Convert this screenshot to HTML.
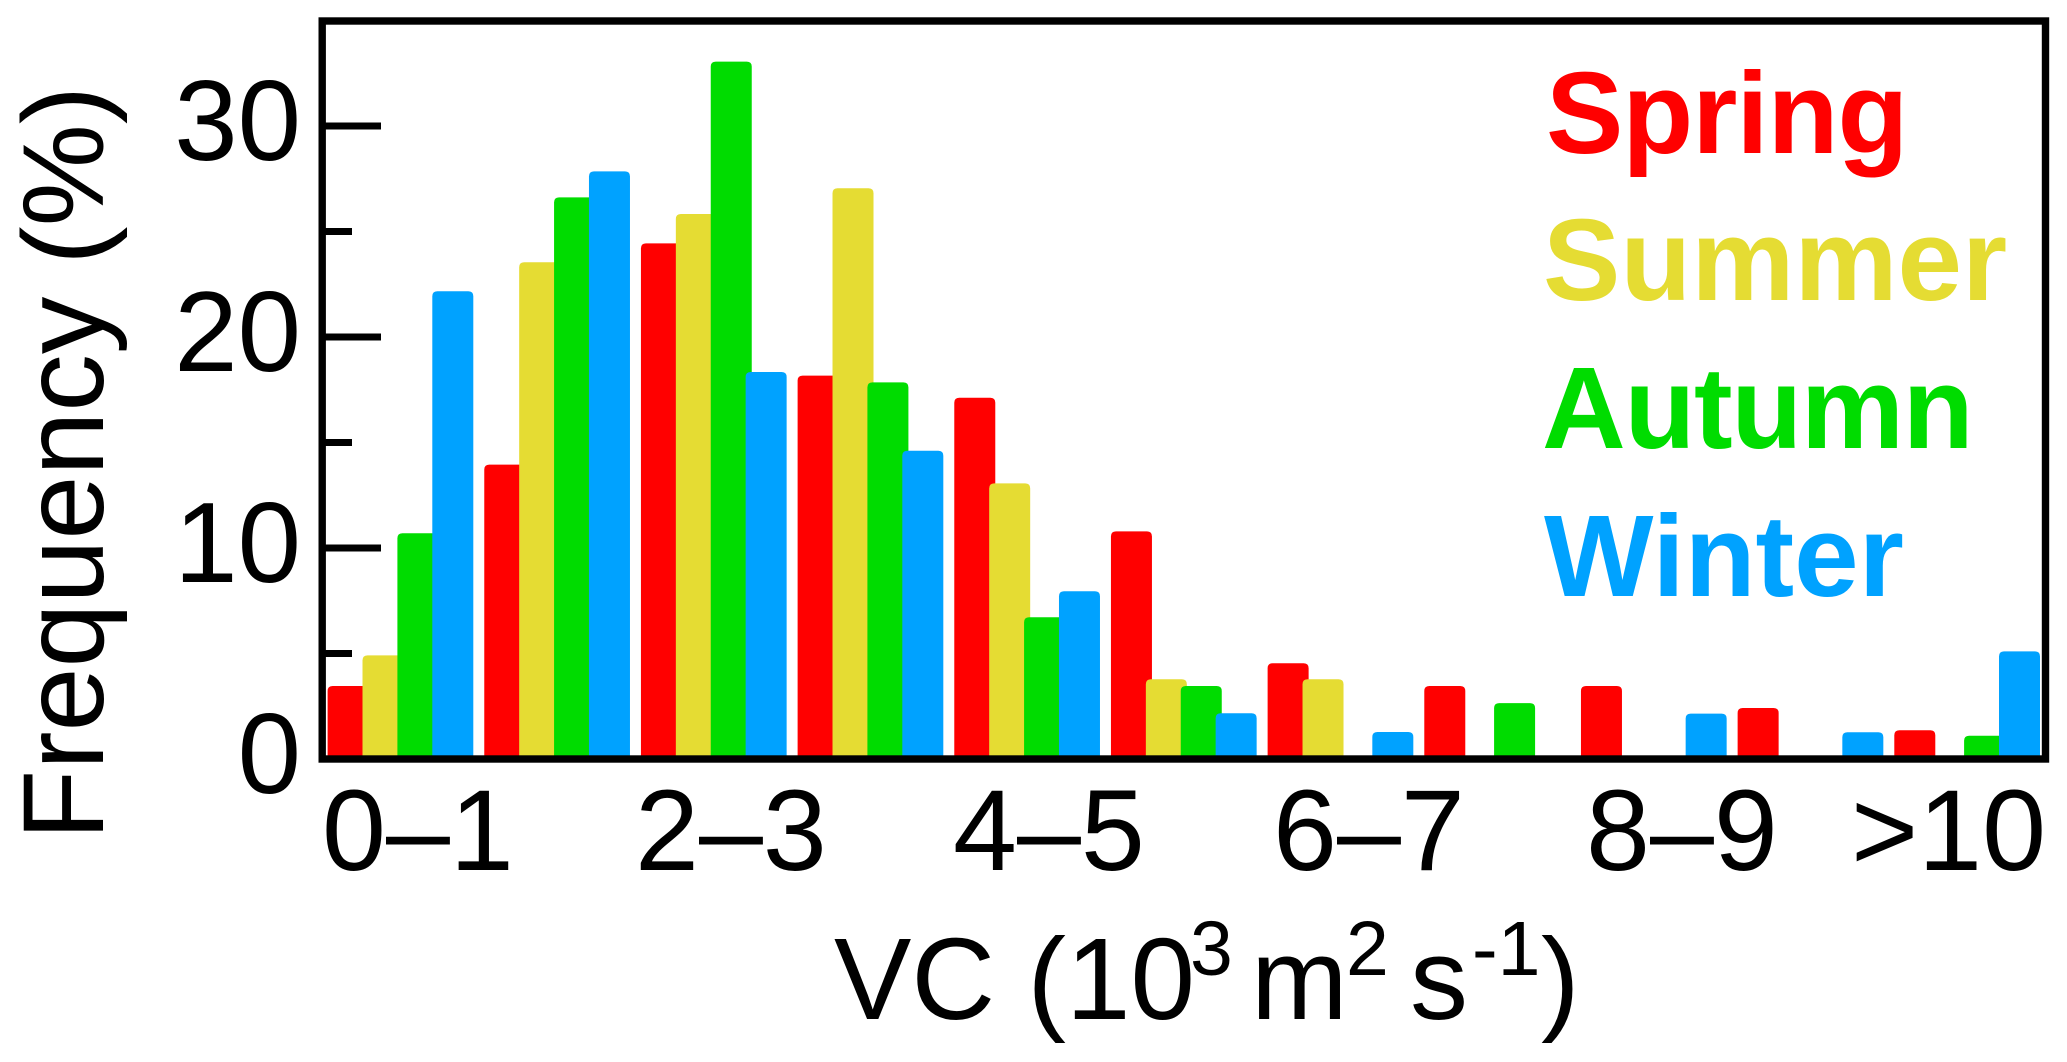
<!DOCTYPE html>
<html lang="en">
<head>
<meta charset="utf-8">
<title>VC frequency by season</title>
<style>
html,body{margin:0;padding:0;background:#fff;width:2067px;height:1062px;overflow:hidden}
svg{display:block}
text{font-family:"Liberation Sans",Arial,sans-serif;fill:#000}
.tick{font-size:115px}
.ytick{font-size:114px}
.leg{font-size:116px;font-weight:bold}
</style>
</head>
<body>
<svg id="chart" xmlns="http://www.w3.org/2000/svg" width="2067" height="1062" viewBox="0 0 2067 1062">
  <rect x="0" y="0" width="2067" height="1062" fill="#fff"/>
  <g id="bars"></g>
  <rect x="322.2" y="21" width="1723.3" height="738" fill="none" stroke="#000" stroke-width="7.4"/>
  <g id="yticks"></g>

  <g>
    <text class="tick" x="322" y="870">0–1</text>
    <text class="tick" x="635" y="870">2–3</text>
    <text class="tick" x="953" y="870">4–5</text>
    <text class="tick" x="1273" y="870">6–7</text>
    <text class="tick" x="1586" y="870">8–9</text>
    <text class="tick" x="1851" y="870">&gt;10</text>
  </g>

  <text font-size="115" transform="translate(103,840) rotate(-90)">Frequency (%)</text>

  <text font-size="116" y="1019"><tspan x="834">VC (10</tspan><tspan x="1190" y="975" font-size="77">3</tspan><tspan x="1251" y="1019">m</tspan><tspan x="1346" y="975" font-size="77">2</tspan><tspan x="1410" y="1019">s</tspan><tspan x="1472" y="975" font-size="77">-1</tspan><tspan x="1541" y="1019">)</tspan></text>

  <g>
    <text class="leg" x="1546" y="153" letter-spacing="-1" style="fill:#ff0000">Spring</text>
    <text class="leg" x="1543" y="300" style="fill:#e5dc33">Summer</text>
    <text class="leg" x="1542" y="448" letter-spacing="-1.3" style="fill:#00dc00">Autumn</text>
    <text class="leg" x="1544" y="596" style="fill:#00a2ff">Winter</text>
  </g>
</svg>
<script>
const categories = ["0-1","1-2","2-3","3-4","4-5","5-6","6-7","7-8","8-9","9-10",">10"];
const seasons = ["spring","summer","autumn","winter"];
const seasonColors = ["#ff0000","#e5dc33","#00dc00","#00a2ff"];
const spring = [3.46,13.95,24.44,18.17,17.12,10.79,4.54,3.46,3.46,2.42,1.36];
const summer = [4.91,23.54,25.83,27.05,13.06,3.78,3.78,0,0,0,0];
const autumn = [10.7,26.62,33.05,17.85,6.72,3.46,0,2.65,0,0,1.10];
const winter = [22.17,27.85,18.34,14.61,7.95,2.17,1.28,0,2.15,1.27,5.10];
const majorTicks = [0,10,20,30];
const minorTicks = [5,15,25];

const seriesValues = [spring,summer,autumn,winter];
const NS = "http://www.w3.org/2000/svg";
const barWidth = 41, corner = 5;
function xScale(catIndex, seasonIndex){ return 327.6 + catIndex*156.67 + seasonIndex*34.9; }
function yScale(v){ return 759 - v*21.1; }

const barsG = document.getElementById("bars");
categories.forEach(function(cat,c){
  seasons.forEach(function(season,s){
    const v = seriesValues[s][c];
    if(!(v>0)) return;
    const x = xScale(c,s), y = yScale(v), base = yScale(0);
    const p = document.createElementNS(NS,"path");
    p.setAttribute("d","M"+x+" "+base+"V"+(y+corner)+"Q"+x+" "+y+" "+(x+corner)+" "+y+"H"+(x+barWidth-corner)+"Q"+(x+barWidth)+" "+y+" "+(x+barWidth)+" "+(y+corner)+"V"+base+"Z");
    p.setAttribute("fill",seasonColors[s]);
    
    
    barsG.appendChild(p);
  });
});

const ticksG = document.getElementById("yticks");
function tickLine(v,len){
  const l = document.createElementNS(NS,"line");
  l.setAttribute("x1",322);
  l.setAttribute("x2",322+len);
  l.setAttribute("y1",yScale(v));
  l.setAttribute("y2",yScale(v));
  l.setAttribute("stroke","#000");
  l.setAttribute("stroke-width",7);
  
  
  ticksG.appendChild(l);
}
majorTicks.forEach(function(v){
  tickLine(v,59);
  const t = document.createElementNS(NS,"text");
  t.setAttribute("class","ytick");
  t.setAttribute("x",301);
  t.setAttribute("y",yScale(v)+34);
  t.setAttribute("text-anchor","end");
  
  
  t.textContent = String(v);
  ticksG.appendChild(t);
});
minorTicks.forEach(function(v){ tickLine(v,30); });
</script>
</body>
</html>
